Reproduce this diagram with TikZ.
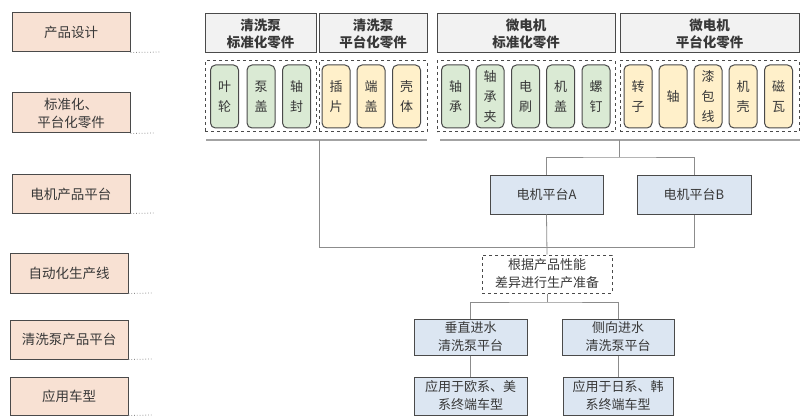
\documentclass[tikz,border=0pt]{standalone}
\usepackage{fontspec}
\setmainfont{Noto Sans CJK SC}
\definecolor{txt}{HTML}{383838}
\definecolor{bord}{HTML}{4A4A4A}
\definecolor{peach}{HTML}{F8E1D3}
\definecolor{hdr}{HTML}{F2F2F2}
\definecolor{grn}{HTML}{DAEAD4}
\definecolor{ylw}{HTML}{FFF0CA}
\definecolor{blu}{HTML}{DCE6F2}
\definecolor{conn}{HTML}{8C8C8C}
\tikzset{
  base/.style={draw=bord, line width=1pt, text=txt, align=center, inner sep=0pt},
  lbl/.style={base, fill=peach, font=\fontsize{13.5}{18}\selectfont},
  hdrbox/.style={base, fill=hdr, font=\fontsize{13.5}{17}\selectfont\bfseries},
  grp/.style={draw=bord, dashed, line width=1pt, inner sep=0pt},
  part/.style={base, rounded corners=5pt, font=\fontsize{13}{20}\selectfont, minimum width=28pt, minimum height=63pt},
  gpart/.style={part, fill=grn},
  ypart/.style={part, fill=ylw},
  plat/.style={base, fill=blu, font=\fontsize{13}{18}\selectfont},
  prep/.style={base, dashed, fill=white, font=\fontsize{13}{18}\selectfont},
  wire/.style={draw=conn, line width=0.8pt},
  bar/.style={draw=conn!80, line width=1.6pt},
  dotl/.style={draw=conn, dotted, line width=0.8pt}
}
\begin{document}
\begin{tikzpicture}[x=1pt,y=-1pt]
\useasboundingbox[fill=white] (0,0) rectangle (801,417);
% left labels
\node[lbl, minimum width=118pt, minimum height=39pt] (L1) at (71,32.5) {产品设计};
\node[lbl, minimum width=118pt, minimum height=40pt] (L2) at (71,113) {标准化、\\平台化零件};
\node[lbl, minimum width=118pt, minimum height=38pt] (L3) at (71,194) {电机产品平台};
\node[lbl, minimum width=118pt, minimum height=40pt] (L4) at (69,273) {自动化生产线};
\node[lbl, minimum width=118pt, minimum height=39pt] (L5) at (69,339.5) {清洗泵产品平台};
\node[lbl, minimum width=118pt, minimum height=38pt] (L6) at (69,396) {应用车型};
\coordinate (D1) at (160,52);
\coordinate (D2) at (155,133);
\coordinate (D3) at (155,213);
\coordinate (D4) at (152,293);
\coordinate (D5) at (152,359);
\coordinate (D6) at (152,415);
\draw[dotl] (L1.south east) -- (D1);
\draw[dotl] (L2.south east) -- (D2);
\draw[dotl] (L3.south east) -- (D3);
\draw[dotl] (L4.south east) -- (D4);
\draw[dotl] (L5.south east) -- (D5);
\draw[dotl] (L6.south east) -- (D6);
% headers
\node[hdrbox, minimum width=111pt, minimum height=39pt] (H1) at (260.5,33.5) {清洗泵\\标准化零件};
\node[hdrbox, minimum width=108pt, minimum height=39pt] (H2) at (373,33.5) {清洗泵\\平台化零件};
\node[hdrbox, minimum width=178pt, minimum height=39pt] (H3) at (526,33.5) {微电机\\标准化零件};
\node[hdrbox, minimum width=179pt, minimum height=39pt] (H4) at (709.5,33.5) {微电机\\平台化零件};
% dashed groups
\node[grp, minimum width=111pt, minimum height=71pt] (G1) at (260.5,96.5) {};
\node[grp, minimum width=108pt, minimum height=71pt] (G2) at (373,96.5) {};
\node[grp, minimum width=178pt, minimum height=71pt] (G3) at (526,96.5) {};
\node[grp, minimum width=179pt, minimum height=71pt] (G4) at (709.5,96.5) {};
% parts
\node[gpart] (p1) at (224.5,96.5) {叶\\轮};
\node[gpart] (p2) at (261,96.5) {泵\\盖};
\node[gpart] (p3) at (296.5,96.5) {轴\\封};
\node[ypart] (p4) at (336,96.5) {插\\片};
\node[ypart] (p5) at (371,96.5) {端\\盖};
\node[ypart] (p6) at (406.5,96.5) {壳\\体};
\node[gpart] (p7) at (455.5,96.5) {轴\\承};
\node[gpart] (p8) at (490,96.5) {轴\\承\\夹};
\node[gpart] (p9) at (525.5,96.5) {电\\刷};
\node[gpart] (p10) at (560.5,96.5) {机\\盖};
\node[gpart] (p11) at (596,96.5) {螺\\钉};
\node[ypart] (p12) at (638,96.5) {转\\子};
\node[ypart] (p13) at (673,96.5) {轴};
\node[ypart] (p14) at (708,96.5) {漆\\包\\线};
\node[ypart] (p15) at (743,96.5) {机\\壳};
\node[ypart] (p16) at (778.5,96.5) {磁\\瓦};
% bars
\coordinate (b1l) at (206,140);
\coordinate (b1r) at (427,140);
\coordinate (b2l) at (440,140);
\coordinate (b2r) at (800,140);
\draw[bar] (b1l) -- (b1r);
\draw[bar] (b2l) -- (b2r);
\coordinate (b1t) at (319,140);
\coordinate (b2t) at (619,140);
% motor platforms
\node[plat, minimum width=113pt, minimum height=38pt] (MA) at (546.5,195) {电机平台A};
\node[plat, minimum width=114pt, minimum height=38pt] (MB) at (694,195) {电机平台B};
\node[prep, minimum width=130pt, minimum height=38pt] (PR) at (547,274) {根据产品性能\\差异进行生产准备};
\node[plat, minimum width=113pt, minimum height=36pt] (V1) at (470.5,337) {垂直进水\\清洗泵平台};
\node[plat, minimum width=112pt, minimum height=36pt] (V2) at (618,337) {侧向进水\\清洗泵平台};
\node[plat, minimum width=113pt, minimum height=38pt] (A1) at (470.5,396) {应用于欧系、美\\系终端车型};
\node[plat, minimum width=110pt, minimum height=38pt] (A2) at (618,396) {应用于日系、韩\\系终端车型};
% connectors
\coordinate (j1) at (619,157);
\draw[wire] (b2t) -- (j1);
\draw[wire] (MA.north) |- (j1) -| (MB.north);
\coordinate (j2) at (319,247);
\draw[wire] (b1t) -- (j2) -| (MB.south);
\draw[wire] (MA.south) -- (PR.north);
\coordinate (j3) at (547,302);
\draw[wire] (PR.south) -- (j3);
\draw[wire] (V1.north) |- (j3) -| (V2.north);
\draw[wire] (V1.south) -- (A1.north);
\draw[wire] (V2.south) -- (A2.north);
\end{tikzpicture}
\end{document}
